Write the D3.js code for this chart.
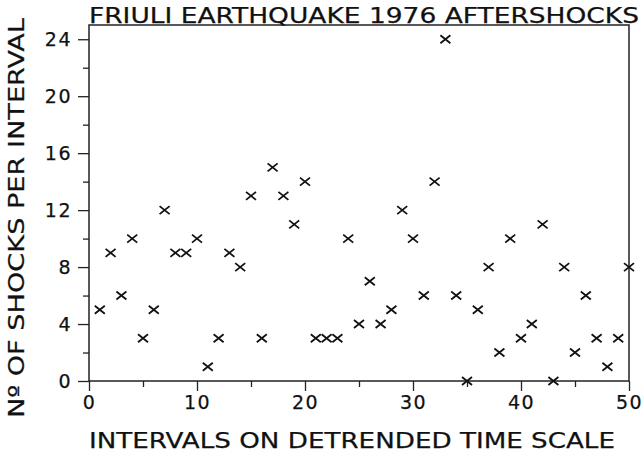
<!DOCTYPE html>
<html>
<head>
<meta charset="utf-8">
<script src="https://cdn.jsdelivr.net/npm/d3@7"></script>
<style>
  body { margin: 0; background: #fff; }
  text { font-family: "DejaVu Sans", sans-serif; fill: #111; stroke: #111; stroke-width: 0.25px; }
</style>
</head>
<body>
<div id="chart"></div>
<script>
// interval number and number of shocks in each interval
var intervals = d3.range(1, 51);
var shocks = [5, 9, 6, 10, 3, 5, 12, 9, 9, 10,
              1, 3, 9, 8, 13, 3, 15, 13, 11, 14,
              3, 3, 3, 10, 4, 7, 4, 5, 12, 10,
              6, 14, 24, 6, 0, 5, 8, 2, 10, 3,
              4, 11, 0, 8, 2, 6, 3, 1, 3, 8];
var xTicks = [0, 10, 20, 30, 40, 50];
var xMinor = [5, 15, 25, 35, 45];
var yTicks = [0, 4, 8, 12, 16, 20, 24];
var yMinor = [2, 6, 10, 14, 18, 22];

var svgWidth = 642, svgHeight = 457;
var margin = { top: 25, right: 13, bottom: 76, left: 89 };
var width = svgWidth - margin.left - margin.right;
var height = svgHeight - margin.top - margin.bottom;

var svg = d3.select("#chart").append("svg")
  .attr("width", svgWidth)
  .attr("height", svgHeight);

var chartGroup = svg.append("g")
  .attr("transform", `translate(${margin.left}, ${margin.top})`);

var x = d3.scaleLinear().domain([0, 50]).range([0, width]);
var y = d3.scaleLinear().domain([0, 25]).range([height, 0]);

// frame
chartGroup.append("rect")
  .attr("width", width)
  .attr("height", height)
  .attr("fill", "none")
  .attr("stroke", "#222")
  .attr("stroke-width", 1.5);

// x axis
chartGroup.append("g")
  .attr("transform", `translate(0, ${height})`)
  .call(d3.axisBottom(x).tickValues(xTicks).tickSize(10).tickPadding(5).tickSizeOuter(0));
chartGroup.append("g")
  .attr("transform", `translate(0, ${height})`)
  .call(d3.axisBottom(x).tickValues(xMinor).tickSize(6).tickFormat("").tickSizeOuter(0));

// y axis
chartGroup.append("g")
  .call(d3.axisLeft(y).tickValues(yTicks).tickSize(11).tickPadding(6).tickSizeOuter(0));
chartGroup.append("g")
  .call(d3.axisLeft(y).tickValues(yMinor).tickSize(6).tickFormat("").tickSizeOuter(0));

chartGroup.selectAll(".domain").remove();
chartGroup.selectAll(".tick line").attr("stroke", "#222").attr("stroke-width", 1.3);
chartGroup.selectAll(".tick text")
  .style("font-family", "DejaVu Sans, sans-serif")
  .style("font-size", "19px")
  .style("letter-spacing", "1.5px")
  .attr("fill", "#111");

// crosses
var s = 5;
chartGroup.append("g").selectAll("path")
  .data(intervals)
  .enter()
  .append("path")
  .attr("d", function (d, i) {
    var cx = x(d), cy = y(shocks[i]);
    return `M${cx - s},${cy - s * 0.8}L${cx + s},${cy + s * 0.8}M${cx - s},${cy + s * 0.8}L${cx + s},${cy - s * 0.8}`;
  })
  .attr("stroke", "#111")
  .attr("stroke-width", 1.8)
  .attr("fill", "none");

// title
svg.append("text")
  .attr("x", 89)
  .attr("y", 23)
  .attr("textLength", 550)
  .attr("lengthAdjust", "spacingAndGlyphs")
  .style("font-size", "22px")
  .text("FRIULI EARTHQUAKE 1976 AFTERSHOCKS");

// x label
svg.append("text")
  .attr("x", 89)
  .attr("y", 448)
  .attr("textLength", 526)
  .attr("lengthAdjust", "spacingAndGlyphs")
  .style("font-size", "22px")
  .text("INTERVALS ON DETRENDED TIME SCALE");

// y label
svg.append("text")
  .attr("transform", "translate(24, 418) rotate(-90)")
  .attr("textLength", 400)
  .attr("lengthAdjust", "spacingAndGlyphs")
  .style("font-size", "22px")
  .text("N\u00BA OF SHOCKS PER INTERVAL");
</script>
</body>
</html>
